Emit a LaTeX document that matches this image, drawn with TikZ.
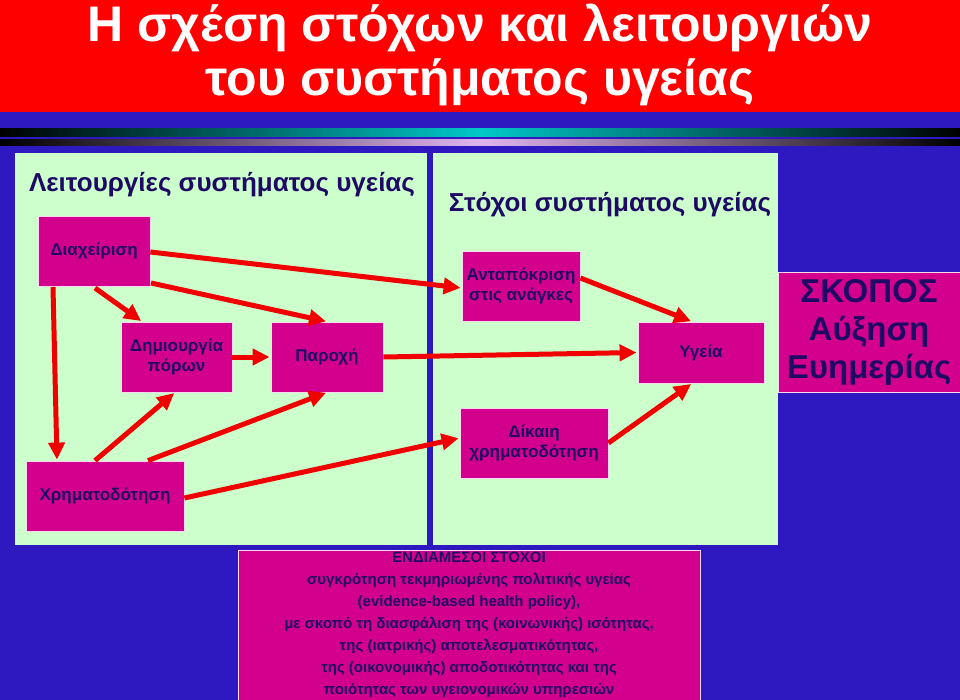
\documentclass[tikz,border=0pt]{standalone}
\usepackage{fontspec}
\setmainfont{Liberation Sans}
\usetikzlibrary{arrows.meta}
\definecolor{bg}{RGB}{46,24,192}
\definecolor{pnl}{RGB}{204,255,204}
\definecolor{mag}{RGB}{210,0,140}
\definecolor{navy}{RGB}{30,10,100}
\definecolor{cy}{RGB}{0,200,200}
\definecolor{lav}{RGB}{225,180,240}
\tikzset{
  bx/.style={draw=white!85!mag,line width=0.8pt,fill=mag,text=navy,font=\bfseries\fontsize{17}{20}\selectfont,align=center,inner sep=0pt},
  ar/.style={draw={rgb,255:red,240;green,0;blue,0},line width=5pt,-{Triangle[length=17pt,width=16pt]},shorten >=1pt}
}
\begin{document}
\begin{tikzpicture}[x=1pt,y=-1pt]
\useasboundingbox (0,0) rectangle (960,700);
\fill[bg] (0,0) rectangle (960,700);
\fill[red] (0,0) rectangle (960,112);
\node[text=white,font=\bfseries\fontsize{50}{54}\selectfont,align=center] (title) at (480,55) {Η σχέση στόχων και λειτουργιών\\του συστήματος υγείας};
\shade[left color=black,right color=cy] (0,129) rectangle (480,137);
\shade[left color=cy,right color=black] (480,129) rectangle (960,137);
\shade[left color=black,right color=lav] (0,140) rectangle (480,146);
\shade[left color=lav,right color=black] (480,140) rectangle (960,146);
\fill[pnl] (15,153) rectangle (427,545);
\fill[pnl] (433,153) rectangle (778,545);
\node[text=navy,font=\bfseries\fontsize{26}{28}\selectfont] (t1) at (222,185) {Λειτουργίες συστήματος υγείας};
\node[text=navy,font=\bfseries\fontsize{26}{28}\selectfont] (t2) at (610,205) {Στόχοι συστήματος υγείας};
\node[bx,minimum width=112pt,minimum height=70pt] (dia) at (94,251) {Διαχείριση};
\node[bx,minimum width=111pt,minimum height=70pt] (dim) at (176.5,357) {Δημιουργία\\πόρων};
\node[bx,minimum width=112pt,minimum height=70pt] (par) at (327,357) {Παροχή};
\node[bx,minimum width=158pt,minimum height=70pt] (xri) at (105,496) {Χρηματοδότηση};
\node[bx,minimum width=118pt,minimum height=70pt] (ant) at (521,286) {Ανταπόκριση\\στις ανάγκες};
\node[bx,minimum width=126pt,minimum height=61pt] (yg) at (701,352.5) {Υγεία};
\node[bx,minimum width=148pt,minimum height=70pt] (dik) at (534,443) {Δίκαιη\\χρηματοδότηση};
\node[bx,minimum width=182pt,minimum height=120pt,font=\bfseries\fontsize{33}{38}\selectfont] (sko) at (869,332) {ΣΚΟΠΟΣ\\Αύξηση\\Ευημερίας};
\node[bx,minimum width=462pt,minimum height=150pt,font=\bfseries\fontsize{15}{22}\selectfont] (end) at (469,625) {ΕΝΔΙΑΜΕΣΟΙ ΣΤΟΧΟΙ\\συγκρότηση τεκμηριωμένης πολιτικής υγείας\\(evidence-based health policy),\\με σκοπό τη διασφάλιση της (κοινωνικής) ισότητας,\\της (ιατρικής) αποτελεσματικότητας,\\της (οικονομικής) αποδοτικότητας και της\\ποιότητας των υγειονομικών υπηρεσιών};
\draw[ar] (dia.east |- 0,252) -- (ant.west |- 0,288);
\draw[ar] (151,283) -- (par.north);
\draw[ar] (95,288) -- (dim.north -| 142,0);
\draw[ar] (53,287) -- (xri.north -| 57,0);
\draw[ar] (dim.east) -- (par.west);
\draw[ar] (par.east) -- (yg.west);
\draw[ar] (ant.east |- 0,278) -- (yg.north -| 692,0);
\draw[ar] (dik.east) -- (yg.south -| 692,0);
\draw[ar] (xri.north -| 95,0) -- (dim.south -| 175,0);
\draw[ar] (xri.north -| 148,0) -- (par.south);
\draw[ar] (xri.east |- 0,498) -- (dik.west |- 0,438);
\end{tikzpicture}
\end{document}
